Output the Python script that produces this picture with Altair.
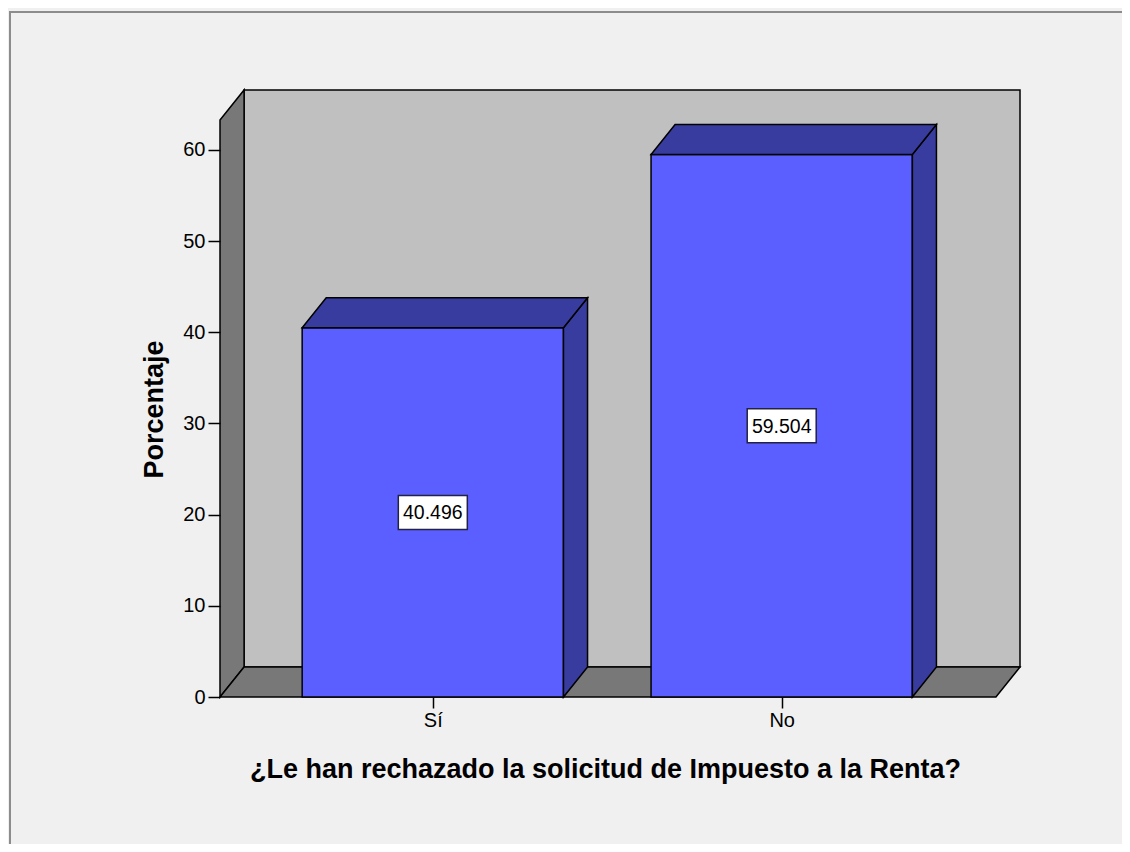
import json
import altair as alt
import pandas as pd

# ---- data ----
categories = ["Sí", "No"]
values = [40.496, 59.504]
y_ticks = [0, 10, 20, 30, 40, 50, 60]

# ---- layout constants (data units) ----
X_LEFT = -0.61        # front-left edge of the 3D box
X_RIGHT_FRONT = 1.614 # front-right edge of floor
DX = 0.069            # depth in x
DY = 3.29             # depth in y
Y_FRONT_TOP = 63.29
BAR_HALF = 0.3745
X_MAX = X_RIGHT_FRONT + DX
Y_MAX = Y_FRONT_TOP + DY

FONT = "Liberation Sans"
FRONT = "#5B5FFF"
SIDE = "#393C9F"
WALL = "#787878"
BACK = "#C0C0C0"

idx = list(range(len(categories)))
bars = pd.DataFrame({
    "name": categories,
    "idx": idx,
    "val": values,
})
bars["x0"] = bars["idx"] - BAR_HALF
bars["x1"] = bars["idx"] + BAR_HALF
bars["mid"] = bars["val"] / 2

side_rows, top_rows = [], []
for name, i, v in zip(categories, idx, values):
    x0, x1 = i - BAR_HALF, i + BAR_HALF
    side_rows.append({"name": name, "x": x1, "yt": v, "yb": 0.0})
    side_rows.append({"name": name, "x": x1 + DX, "yt": v + DY, "yb": DY})
    top_rows.append({"name": name, "y": v, "xl": x0, "xr": x1})
    top_rows.append({"name": name, "y": v + DY, "xl": x0 + DX, "xr": x1 + DX})
sides = pd.DataFrame(side_rows)
tops = pd.DataFrame(top_rows)

back = pd.DataFrame({"x": [X_LEFT + DX], "x2": [X_MAX], "y": [DY], "y2": [Y_MAX]})
leftwall = pd.DataFrame({"x": [X_LEFT, X_LEFT + DX], "yt": [Y_FRONT_TOP, Y_MAX], "yb": [0.0, DY]})
floor = pd.DataFrame({"y": [0.0, DY], "xl": [X_LEFT, X_LEFT + DX], "xr": [X_RIGHT_FRONT, X_MAX]})

label_expr = json.dumps(categories, ensure_ascii=False) + "[datum.value]"

xscale = alt.Scale(domain=[X_LEFT, X_MAX], nice=False, zero=False)
yscale = alt.Scale(domain=[0, Y_MAX], nice=False, zero=False)
XT = "¿Le han rechazado la solicitud de Impuesto a la Renta?"
YT = "Porcentaje"
xaxis = alt.Axis(values=idx, labelExpr=label_expr, title=XT, domain=False, grid=False,
                 tickSize=11, tickColor="black", tickWidth=1.5, labelFont=FONT,
                 labelFontSize=20, labelColor="black", labelPadding=2,
                 titleFont=FONT, titleFontSize=27, titleFontWeight="bold", titleColor="black",
                 titleX=385, titleY=80, titleBaseline="alphabetic", zindex=1)
yaxis = alt.Axis(values=y_ticks, title=YT, domain=False, grid=False,
                 tickSize=12, tickColor="black", tickWidth=1.5, labelFont=FONT,
                 labelFontSize=20, labelColor="black", labelPadding=3,
                 titleFont=FONT, titleFontSize=27, titleFontWeight="bold", titleColor="black",
                 titleX=-58, titleY=319, titleAngle=-90, titleBaseline="alphabetic",
                 titleAlign="center", zindex=1)

bg = alt.Chart(pd.DataFrame({"a": [0]})).mark_rect(
    fill="#F0F0F0", stroke="#8C8C8C", strokeWidth=2
).encode(x=alt.value(-210), x2=alt.value(920), y=alt.value(-78), y2=alt.value(775))

backwall = alt.Chart(back).mark_rect(fill=BACK, stroke="black", strokeWidth=1.5).encode(
    x=alt.X("x:Q", scale=xscale, axis=xaxis), x2="x2:Q",
    y=alt.Y("y:Q", scale=yscale, axis=yaxis), y2="y2:Q")

lw = alt.Chart(leftwall).mark_area(fill=WALL, stroke="black", strokeWidth=1.5, orient="vertical").encode(
    x=alt.X("x:Q", scale=xscale, axis=xaxis),
    y=alt.Y("yt:Q", scale=yscale, axis=yaxis), y2="yb:Q")

fl = alt.Chart(floor).mark_area(fill=WALL, stroke="black", strokeWidth=1.5, orient="horizontal").encode(
    y=alt.Y("y:Q", scale=yscale, axis=yaxis),
    x=alt.X("xl:Q", scale=xscale, axis=xaxis), x2="xr:Q")

front = alt.Chart(bars).mark_rect(fill=FRONT, stroke="black", strokeWidth=1.5).encode(
    x=alt.X("x0:Q", scale=xscale, axis=xaxis), x2="x1:Q",
    y=alt.Y("val:Q", scale=yscale, axis=yaxis), y2=alt.datum(0))

side = alt.Chart(sides).mark_area(fill=SIDE, stroke="black", strokeWidth=1.5, orient="vertical").encode(
    x=alt.X("x:Q", scale=xscale, axis=xaxis),
    y=alt.Y("yt:Q", scale=yscale, axis=yaxis), y2="yb:Q", detail="name:N")

top = alt.Chart(tops).mark_area(fill=SIDE, stroke="black", strokeWidth=1.5, orient="horizontal").encode(
    y=alt.Y("y:Q", scale=yscale, axis=yaxis),
    x=alt.X("xl:Q", scale=xscale, axis=xaxis), x2="xr:Q", detail="name:N")

box = alt.Chart(bars).mark_rect(fill="white", stroke="#222244", strokeWidth=1.5,
                                xOffset=-34.5, x2Offset=34.5, yOffset=-17, y2Offset=17).encode(
    x=alt.X("idx:Q", scale=xscale, axis=xaxis), x2="idx:Q",
    y=alt.Y("mid:Q", scale=yscale, axis=yaxis), y2="mid:Q")

txt = alt.Chart(bars).mark_text(font=FONT, fontSize=19.5, color="black", baseline="middle",
                                align="center", dy=1).encode(
    x=alt.X("idx:Q", scale=xscale, axis=xaxis),
    y=alt.Y("mid:Q", scale=yscale, axis=yaxis),
    text=alt.Text("val:Q", format=".3f"))

chart = alt.layer(bg, backwall, lw, fl, front, side, top, box, txt).properties(
    width=800, height=607,
    autosize=alt.AutoSizeParams(type="none"),
    padding={"left": 212, "top": 82, "right": 102, "bottom": 147},
    background="#F0F0F0",
).configure_view(strokeWidth=0)

chart.save("out.html", embed_options={"renderer": "svg", "actions": False})
